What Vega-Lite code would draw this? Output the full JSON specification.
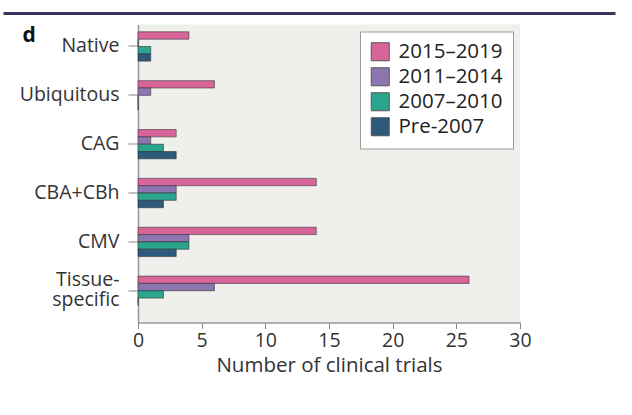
{
  "$schema": "https://vega.github.io/schema/vega-lite/v6.json",
  "padding": {"left": 0, "top": 9, "right": 0, "bottom": 0},
  "background": "white",
  "config": {"font": "Open Sans", "view": {"stroke": null}},
  "spacing": 8.5,
  "resolve": {"scale": {"color": "independent", "x": "independent"}, "legend": {"color": "independent"}},
  "vconcat": [
    {
      "width": 477,
      "height": 1,
      "data": {"values": [{"v": 0}]},
      "mark": {"type": "point", "opacity": 0},
      "encoding": {
        "x": {
          "field": "v",
          "type": "quantitative",
          "scale": {"domain": [0, 1], "range": [-135, 477]},
          "axis": {
            "orient": "bottom",
            "title": null,
            "labels": false,
            "ticks": false,
            "grid": false,
            "domainColor": "#37365f",
            "domainWidth": 3
          }
        }
      }
    },
    {
      "width": 382,
      "height": 298,
      "view": {"fill": "#efefeb", "stroke": null},
      "data": {
        "values": [
          {"promoter": "Native", "period": "2015–2019", "count": 4},
          {"promoter": "Native", "period": "2011–2014", "count": 0},
          {"promoter": "Native", "period": "2007–2010", "count": 1},
          {"promoter": "Native", "period": "Pre-2007", "count": 1},
          {"promoter": "Ubiquitous", "period": "2015–2019", "count": 6},
          {"promoter": "Ubiquitous", "period": "2011–2014", "count": 1},
          {"promoter": "Ubiquitous", "period": "2007–2010", "count": 0},
          {"promoter": "Ubiquitous", "period": "Pre-2007", "count": 0},
          {"promoter": "CAG", "period": "2015–2019", "count": 3},
          {"promoter": "CAG", "period": "2011–2014", "count": 1},
          {"promoter": "CAG", "period": "2007–2010", "count": 2},
          {"promoter": "CAG", "period": "Pre-2007", "count": 3},
          {"promoter": "CBA+CBh", "period": "2015–2019", "count": 14},
          {"promoter": "CBA+CBh", "period": "2011–2014", "count": 3},
          {"promoter": "CBA+CBh", "period": "2007–2010", "count": 3},
          {"promoter": "CBA+CBh", "period": "Pre-2007", "count": 2},
          {"promoter": "CMV", "period": "2015–2019", "count": 14},
          {"promoter": "CMV", "period": "2011–2014", "count": 4},
          {"promoter": "CMV", "period": "2007–2010", "count": 4},
          {"promoter": "CMV", "period": "Pre-2007", "count": 3},
          {"promoter": "Tissue-specific", "period": "2015–2019", "count": 26},
          {"promoter": "Tissue-specific", "period": "2011–2014", "count": 6},
          {"promoter": "Tissue-specific", "period": "2007–2010", "count": 2},
          {"promoter": "Tissue-specific", "period": "Pre-2007", "count": 0}
        ]
      },
      "mark": {"type": "bar", "stroke": "#333", "strokeOpacity": 0.6, "strokeWidth": 1},
      "encoding": {
        "y": {
          "field": "promoter",
          "type": "nominal",
          "sort": ["Native", "Ubiquitous", "CAG", "CBA+CBh", "CMV", "Tissue-specific"],
          "scale": {"paddingInner": 0.4, "paddingOuter": 0.25, "align": 0.3},
          "axis": {
            "title": "d",
            "titleX": -116,
            "titleY": 17,
            "titleAngle": 0,
            "titleAlign": "left",
            "titleBaseline": "alphabetic",
            "titleFontSize": 21,
            "titleFontWeight": "bold",
            "titleColor": "#111",
            "titlePadding": 4,
            "labelFontSize": 19.5,
            "labelColor": "#333",
            "labelPadding": 9,
            "tickSize": 10,
            "tickColor": "#888",
            "domainColor": "#999",
            "domainWidth": 1.5,
            "minExtent": 135,
            "maxExtent": 200,
            "labelLimit": 200,
            "labelLineHeight": 20,
            "labelOffset": {"condition": {"test": "datum.value == 'Tissue-specific'", "value": -10.5}, "value": 0},
            "labelExpr": "datum.value == 'Tissue-specific' ? ['Tissue-', 'specific'] : datum.value"
          }
        },
        "yOffset": {
          "field": "period",
          "sort": ["2015–2019", "2011–2014", "2007–2010", "Pre-2007"],
          "scale": {"paddingInner": 0, "paddingOuter": 0}
        },
        "x": {
          "field": "count",
          "type": "quantitative",
          "scale": {"domain": [0, 30], "nice": false},
          "axis": {
            "title": "Number of clinical trials",
            "titleFontSize": 20.5,
            "titleFontWeight": "normal",
            "titleColor": "#333",
            "titlePadding": 5,
            "labelFontSize": 19.5,
            "labelColor": "#333",
            "labelPadding": 3,
            "tickSize": 6,
            "tickColor": "#888",
            "domainColor": "#999",
            "domainWidth": 1.5,
            "values": [0, 5, 10, 15, 20, 25, 30],
            "grid": false,
            "labelFlush": false
          }
        },
        "color": {
          "field": "period",
          "type": "nominal",
          "sort": ["2015–2019", "2011–2014", "2007–2010", "Pre-2007"],
          "scale": {
            "domain": ["2015–2019", "2011–2014", "2007–2010", "Pre-2007"],
            "range": ["#d9649a", "#8b76b0", "#2aa58e", "#2d5a7a"]
          },
          "legend": {
            "orient": "top-right",
            "offset": 7,
            "title": null,
            "fillColor": "white",
            "strokeColor": "#999",
            "padding": 10,
            "symbolType": "square",
            "symbolSize": 324,
            "symbolStrokeColor": "#555",
            "symbolStrokeWidth": 1,
            "labelFontSize": 20.5,
            "labelColor": "#222",
            "rowPadding": 2,
            "labelOffset": 8
          }
        }
      }
    }
  ]
}
